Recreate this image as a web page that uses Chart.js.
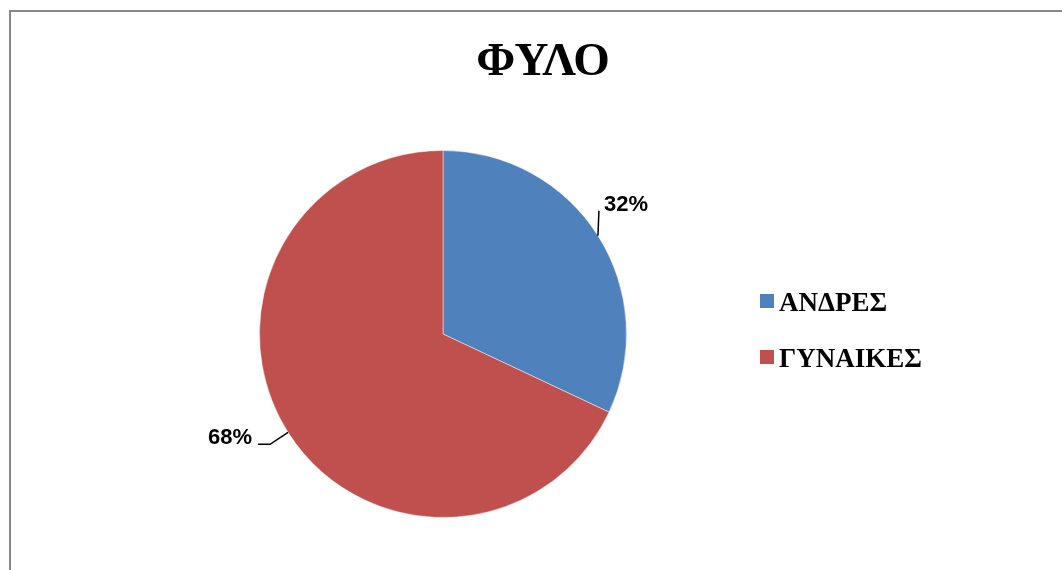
<!DOCTYPE html>
<html>
<head>
<meta charset="utf-8">
<script src="https://cdn.jsdelivr.net/npm/chart.js@4.4.1/dist/chart.umd.min.js"></script>
<style>
  html, body { margin: 0; padding: 0; background: #fff; overflow: hidden; }
  #frame {
    position: absolute; left: 9px; top: 10px;
    width: 1062px; height: 558px;
    border-top: 2px solid #888; border-left: 2px solid #888;
  }
  canvas { display: block; }
</style>
</head>
<body>
<div id="frame"><canvas id="pieChart" width="1062" height="558"></canvas></div>
<script>
// Δεδομένα
const chartTitle = 'ΦΥΛΟ';
const categories = ['ΑΝΔΡΕΣ', 'ΓΥΝΑΙΚΕΣ'];
const values = [32, 68];
const sliceColors = ['#4F81BD', '#C0504D'];

// leader lines + label offsets, relative to the outer point of each slice (Excel manual placement)
const labelPlacement = [
    { path: [[1, -25]], label: [6, -25], align: 'left' },
    { path: [[-18, 12], [-30, 12]], label: [-36, 12], align: 'right' }
];

const excelPlugin = {
    id: 'excelPie',
    afterDraw(chart) {
        const ctx = chart.ctx;
        const meta = chart.getDatasetMeta(0);
        const total = values.reduce((a, b) => a + b, 0);
        ctx.save();

        // titre
        ctx.fillStyle = '#000';
        ctx.font = 'bold 47px "Liberation Serif", "DejaVu Serif", serif';
        ctx.textAlign = 'center';
        ctx.textBaseline = 'alphabetic';
        ctx.fillText(chartTitle, 532, 63);

        // étiquettes de données avec lignes de rappel
        meta.data.forEach((arc, i) => {
            const p = arc.getProps(['x', 'y', 'startAngle', 'endAngle', 'outerRadius']);
            const mid = (p.startAngle + p.endAngle) / 2;
            const ax = p.x + Math.cos(mid) * p.outerRadius;
            const ay = p.y + Math.sin(mid) * p.outerRadius;
            const pl = labelPlacement[i];
            ctx.strokeStyle = '#000';
            ctx.lineWidth = 1.5;
            ctx.beginPath();
            ctx.moveTo(ax, ay);
            pl.path.forEach(([dx, dy]) => ctx.lineTo(ax + dx, ay + dy));
            ctx.stroke();
            const pct = Math.round(values[i] / total * 100) + '%';
            ctx.font = 'bold 22px "Liberation Sans", Arial, sans-serif';
            ctx.textAlign = pl.align;
            ctx.fillText(pct, ax + pl.label[0], ay + pl.label[1]);
        });

        // légende
        ctx.font = 'bold 27px "Liberation Serif", "DejaVu Serif", serif';
        ctx.textAlign = 'left';
        categories.forEach((name, i) => {
            const baseY = 299 + i * 56;
            ctx.fillStyle = sliceColors[i];
            ctx.fillRect(749, baseY - 17, 14, 14);
            ctx.fillStyle = '#000';
            ctx.fillText(name, 768, baseY);
        });
        ctx.restore();
    }
};

new Chart(document.getElementById('pieChart').getContext('2d'), {
    type: 'pie',
    data: {
        labels: categories,
        datasets: [{
            data: values,
            backgroundColor: sliceColors,
            borderColor: 'rgba(255,255,255,0.45)',
            borderWidth: 1
        }]
    },
    options: {
        responsive: false,
        animation: false,
        layout: { padding: { left: 248, right: 446, top: 138, bottom: 52 } },
        plugins: {
            legend: { display: false },
            title: { display: false },
            tooltip: { enabled: false }
        }
    },
    plugins: [excelPlugin]
});
</script>
</body>
</html>
